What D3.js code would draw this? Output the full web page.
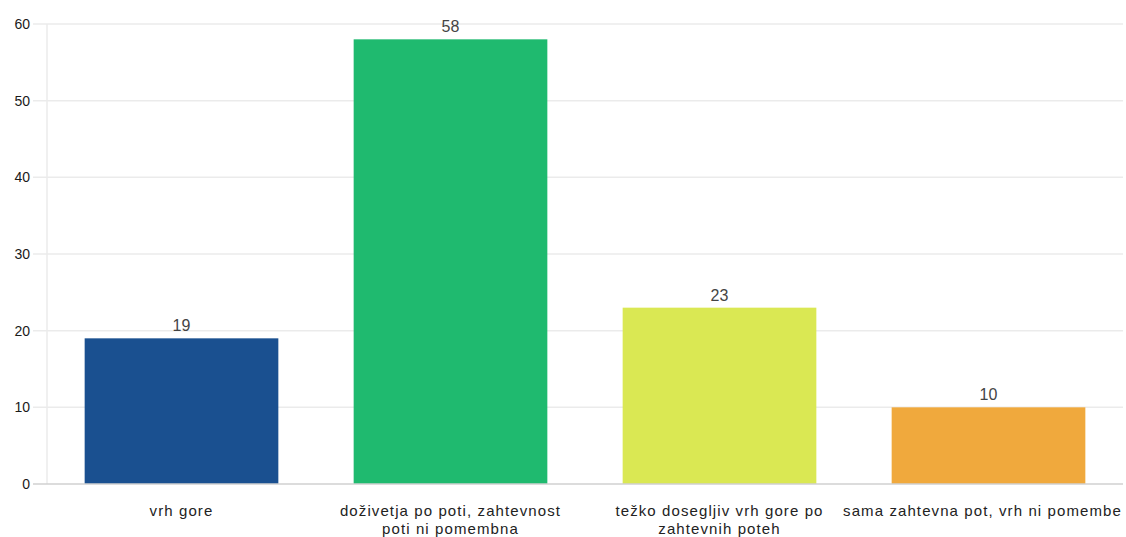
<!DOCTYPE html>
<html><head><meta charset="utf-8">
<script src="https://cdn.jsdelivr.net/npm/d3@7"></script>
<style>body{margin:0;background:#fff;}svg{display:block;font-family:"Liberation Sans",Arial,sans-serif;}</style>
</head><body>
<script>
const categories = ["vrh gore", "doživetja po poti, zahtevnost poti ni pomembna", "težko dosegljiv vrh gore po zahtevnih poteh", "sama zahtevna pot, vrh ni pomembe"];
const labelLines = [["vrh gore"], ["doživetja po poti, zahtevnost", "poti ni pomembna"], ["težko dosegljiv vrh gore po", "zahtevnih poteh"], ["sama zahtevna pot, vrh ni pomembe"]];
const values = [19, 58, 23, 10];
const colors = ["#1a5090", "#1fba6f", "#dae853", "#f0a93d"];
const yTicks = [0, 10, 20, 30, 40, 50, 60];

(function () {
const W = 1126, H = 537;
const svg = d3.select("body").append("svg").attr("width", W).attr("height", H);
const mLeft = 47, mRight = 1123, mTop = 24, mBottom = 484;
const x = d3.scaleBand().domain(categories).range([mLeft, mRight]).paddingInner(0.28).paddingOuter(0.14);
const y = d3.scaleLinear().domain([0, 60]).range([mBottom, mTop]);

svg.append("g").selectAll("line").data(yTicks.filter(d => d > 0)).join("line")
  .attr("x1", 33).attr("x2", mRight).attr("y1", d => y(d)).attr("y2", d => y(d))
  .attr("stroke", "#ebebeb").attr("stroke-width", 1.5);
svg.append("line").attr("x1", mLeft).attr("x2", mLeft).attr("y1", mTop).attr("y2", mBottom)
  .attr("stroke", "#ebebeb").attr("stroke-width", 1.5);

const yAxis = d3.axisLeft(y).tickValues(yTicks).tickSize(0).tickPadding(0);
const gy = svg.append("g").attr("transform", "translate(30,0)").call(yAxis);
gy.select(".domain").remove();
gy.selectAll("text").attr("font-size", 14).attr("fill", "#1a1a1a").attr("font-family", "Liberation Sans, Arial, sans-serif");

svg.append("g").selectAll("rect").data(values).join("rect")
  .attr("x", (d, i) => x(categories[i])).attr("width", x.bandwidth())
  .attr("y", d => y(d)).attr("height", d => y(0) - y(d))
  .attr("fill", (d, i) => colors[i]);

svg.append("line").attr("x1", 33).attr("x2", mRight).attr("y1", mBottom).attr("y2", mBottom)
  .attr("stroke", "#d0d0d0").attr("stroke-width", 1.5);

svg.append("g").selectAll("text").data(values).join("text")
  .attr("x", (d, i) => x(categories[i]) + x.bandwidth() / 2)
  .attr("y", d => y(d) - 7)
  .attr("text-anchor", "middle").attr("font-size", 16).attr("fill", "#444")
  .text(d => d);

const gx = svg.append("g");
labelLines.forEach((lines, i) => {
  const cx = x(categories[i]) + x.bandwidth() / 2 - (i === 3 ? 6 : 0);
  const t = gx.append("text").attr("text-anchor", "middle").attr("font-size", 15).attr("letter-spacing", 1.1).attr("fill", "#222")
    .attr("x", cx).attr("y", 516);
  lines.forEach((ln, j) => t.append("tspan").attr("x", cx).attr("dy", j === 0 ? 0 : 18).text(ln));
});
})();
</script>
</body></html>
